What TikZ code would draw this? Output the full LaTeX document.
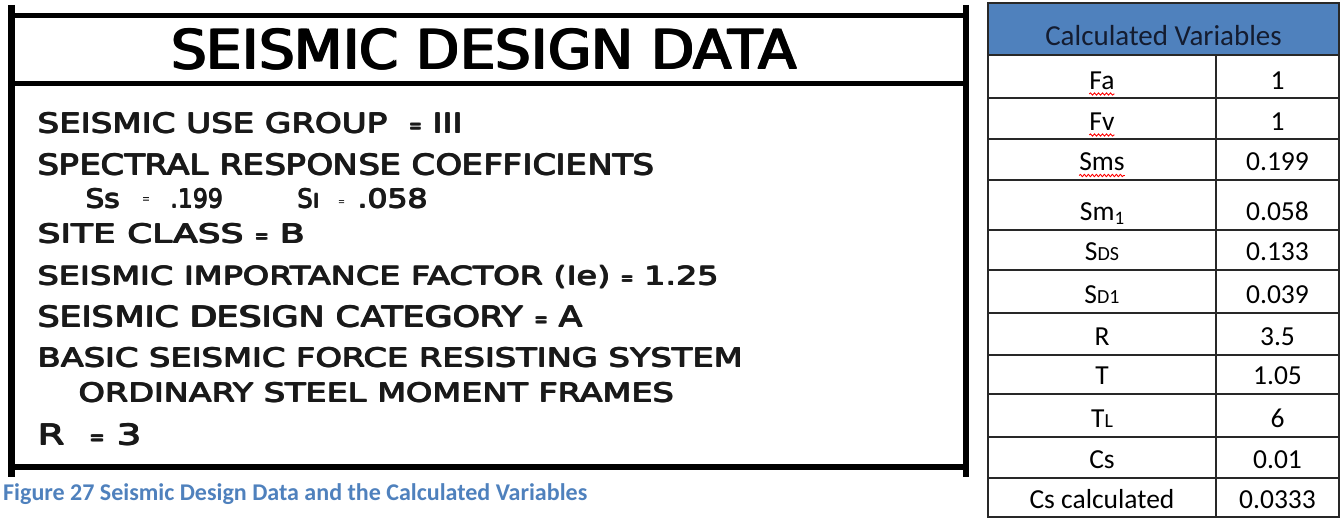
\documentclass[tikz,border=0pt]{standalone}
\usepackage{fontspec}
\usepackage{graphicx}
\setmainfont{Carlito}
\newfontfamily\cadfont{DejaVu Sans}
\usetikzlibrary{decorations.pathmorphing}

\definecolor{capblue}{RGB}{79,129,189}
\definecolor{hdrblue}{RGB}{79,129,189}
\definecolor{gridc}{RGB}{40,40,40}
\definecolor{inkc}{RGB}{25,25,25}

% heavier pen: the same lettering set a few times with small offsets
\newcommand{\pen}[2]{\rlap{#2}\rlap{\raisebox{#1em}{#2}}\rlap{\kern#1em\raisebox{#1em}{#2}}\kern#1em #2}
% lettering of the drawing sheet, stretched to a given width and cap height
\newcommand{\cadtext}[3]{\resizebox{#1pt}{#2pt}{\cadfont\pen{0.03}{#3}}}
\newcommand{\cadsign}[3]{\resizebox{#1pt}{#2pt}{\cadfont #3}}
\newcommand{\sheq}{\scalebox{0.45}[0.75]{=}}

\tikzset{
  frame/.style={line width=#1, black},
  cadlbl/.style={anchor=base west, inner sep=0pt, text=inkc},
  cellbox/.style={draw=gridc, line width=1.3pt},
  celltxt/.style={anchor=base, inner sep=0pt, font=\fontsize{27.5}{27.5}\selectfont},
  spell/.style={draw=red, line width=0.9pt, decorate,
    decoration={snake, amplitude=1.1pt, segment length=4pt}}
}

\begin{document}
\begin{tikzpicture}[x=1pt, y=-1pt]
\useasboundingbox (0,0) rectangle (1341,519);

% ---- data sheet frame ----
\coordinate (tl) at (11,5);
\coordinate (bl) at (11,477);
\coordinate (tr) at (965.5,5);
\coordinate (br) at (965.5,477);
\coordinate (h1l) at (11,16);   \coordinate (h1r) at (965.5,16);
\coordinate (h2l) at (11,83.5); \coordinate (h2r) at (965.5,83.5);
\coordinate (h3l) at (11,466.5);\coordinate (h3r) at (965.5,466.5);
\draw[frame=5pt] (h1l) -- (h1r);
\draw[frame=5.5pt] (h2l) -- (h2r);
\draw[frame=6pt] (h3l) -- (h3r);
\draw[frame=7pt] (tl) -- (bl);
\draw[frame=6pt] (tr) -- (br);

% ---- sheet lettering ----
\node[cadlbl, text=black] (title) at (170,70) {\resizebox{627pt}{42pt}{\cadfont\pen{0.035}{SEISMIC DESIGN DATA}}};
\node[cadlbl] (use) at (37,133) {\cadtext{426}{21}{SEISMIC USE GROUP \ \sheq\ III}};
\node[cadlbl] (src) at (37,175) {\cadtext{618}{22}{SPECTRAL RESPONSE COEFFICIENTS}};
\node[cadlbl] (ss) at (85,208) {\cadtext{35}{20}{Ss}};
\node[cadlbl] (sseq) at (142,203.5) {\cadsign{8}{6}{=}};
\node[cadlbl] (ssv) at (170,208) {\cadtext{53}{20}{.199}};
\node[cadlbl] (s1) at (297,208) {\cadtext{23}{20}{S\scalebox{1}[0.75]{I}}};
\node[cadlbl] (s1eq) at (338,205) {\cadsign{7}{5}{=}};
\node[cadlbl] (s1v) at (357,208) {\cadtext{71}{20}{.058}};
\node[cadlbl] (site) at (37,243) {\cadtext{268}{20}{SITE CLASS \sheq\ B}};
\node[cadlbl] (imp) at (37,285) {\cadtext{682}{20}{SEISMIC IMPORTANCE FACTOR (Ie) \sheq\ 1.25}};
\node[cadlbl] (cat) at (37,327) {\cadtext{546}{22}{SEISMIC DESIGN CATEGORY \sheq\ A}};
\node[cadlbl] (sys) at (37,367) {\cadtext{706}{20}{BASIC SEISMIC FORCE RESISTING SYSTEM}};
\node[cadlbl] (frm) at (78,402) {\cadtext{596}{20}{ORDINARY STEEL MOMENT FRAMES}};
\node[cadlbl] (rr) at (37,445) {\cadtext{105}{22}{R \ \sheq\ 3}};

% ---- caption ----
\node[anchor=base west, inner sep=0pt, text=capblue] (caption) at (3,500)
  {\resizebox{584pt}{!}{\fontsize{23}{23}\selectfont\bfseries Figure 27 Seismic Design Data and the Calculated Variables}};

% ---- calculated variables table ----
\fill[hdrblue] (988,3) rectangle (1339,55);
\draw[cellbox] (988,3) rectangle (1339,55);
\node[anchor=base, inner sep=0pt, font=\fontsize{29}{29}\selectfont, text={rgb,255:red,20;green,28;blue,48}]
  (hdr) at (1163.5,46) {Calculated Variables};

\foreach \t/\b in {55/98,98/139,139/180,180/230,230/270,270/313,313/355,355/394,394/437,437/478,478/517}{
  \draw[cellbox] (988,\t) rectangle (1216,\b);
  \draw[cellbox] (1216,\t) rectangle (1339,\b);
}

\node[celltxt] (fa)  at (1102,89)    {Fa};
\node[celltxt] (fav) at (1277.5,89)  {1};
\node[celltxt] (fv)  at (1102,130)   {Fv};
\node[celltxt] (fvv) at (1277.5,130) {1};
\node[celltxt] (sms) at (1102,170.5) {Sms};
\node[celltxt] (smsv) at (1277.5,170.5) {0.199};
\node[celltxt] (sm1) at (1102,220)   {Sm\raisebox{-4pt}{\fontsize{19}{19}\selectfont 1}};
\node[celltxt] (sm1v) at (1277.5,220) {0.058};
\node[celltxt] (sds) at (1102,260.5) {S{\fontsize{20}{20}\selectfont DS}};
\node[celltxt] (sdsv) at (1277.5,260.5) {0.133};
\node[celltxt] (sd1) at (1102,303.5) {S{\fontsize{20}{20}\selectfont D1}};
\node[celltxt] (sd1v) at (1277.5,303.5) {0.039};
\node[celltxt] (r)   at (1102,345.5) {R};
\node[celltxt] (rv)  at (1277.5,345.5) {3.5};
\node[celltxt] (t)   at (1102,384.5) {T};
\node[celltxt] (tv)  at (1277.5,384.5) {1.05};
\node[celltxt] (tl)  at (1102,427.5) {T{\fontsize{20}{20}\selectfont L}};
\node[celltxt] (tlv) at (1277.5,427.5) {6};
\node[celltxt] (cs)  at (1102,468.5) {Cs};
\node[celltxt] (csv) at (1277.5,468.5) {0.01};
\node[celltxt] (csc) at (1102,508) {Cs calculated};
\node[celltxt] (cscv) at (1277.5,508) {0.0333};

% spell-check underlines
\draw[spell] ([yshift=-5pt]fa.base west) -- ([yshift=-5pt]fa.base east);
\draw[spell] ([yshift=-5pt]fv.base west) -- ([yshift=-5pt]fv.base east);
\draw[spell] ([yshift=-5pt]sms.base west) -- ([yshift=-5pt]sms.base east);
\end{tikzpicture}
\end{document}
